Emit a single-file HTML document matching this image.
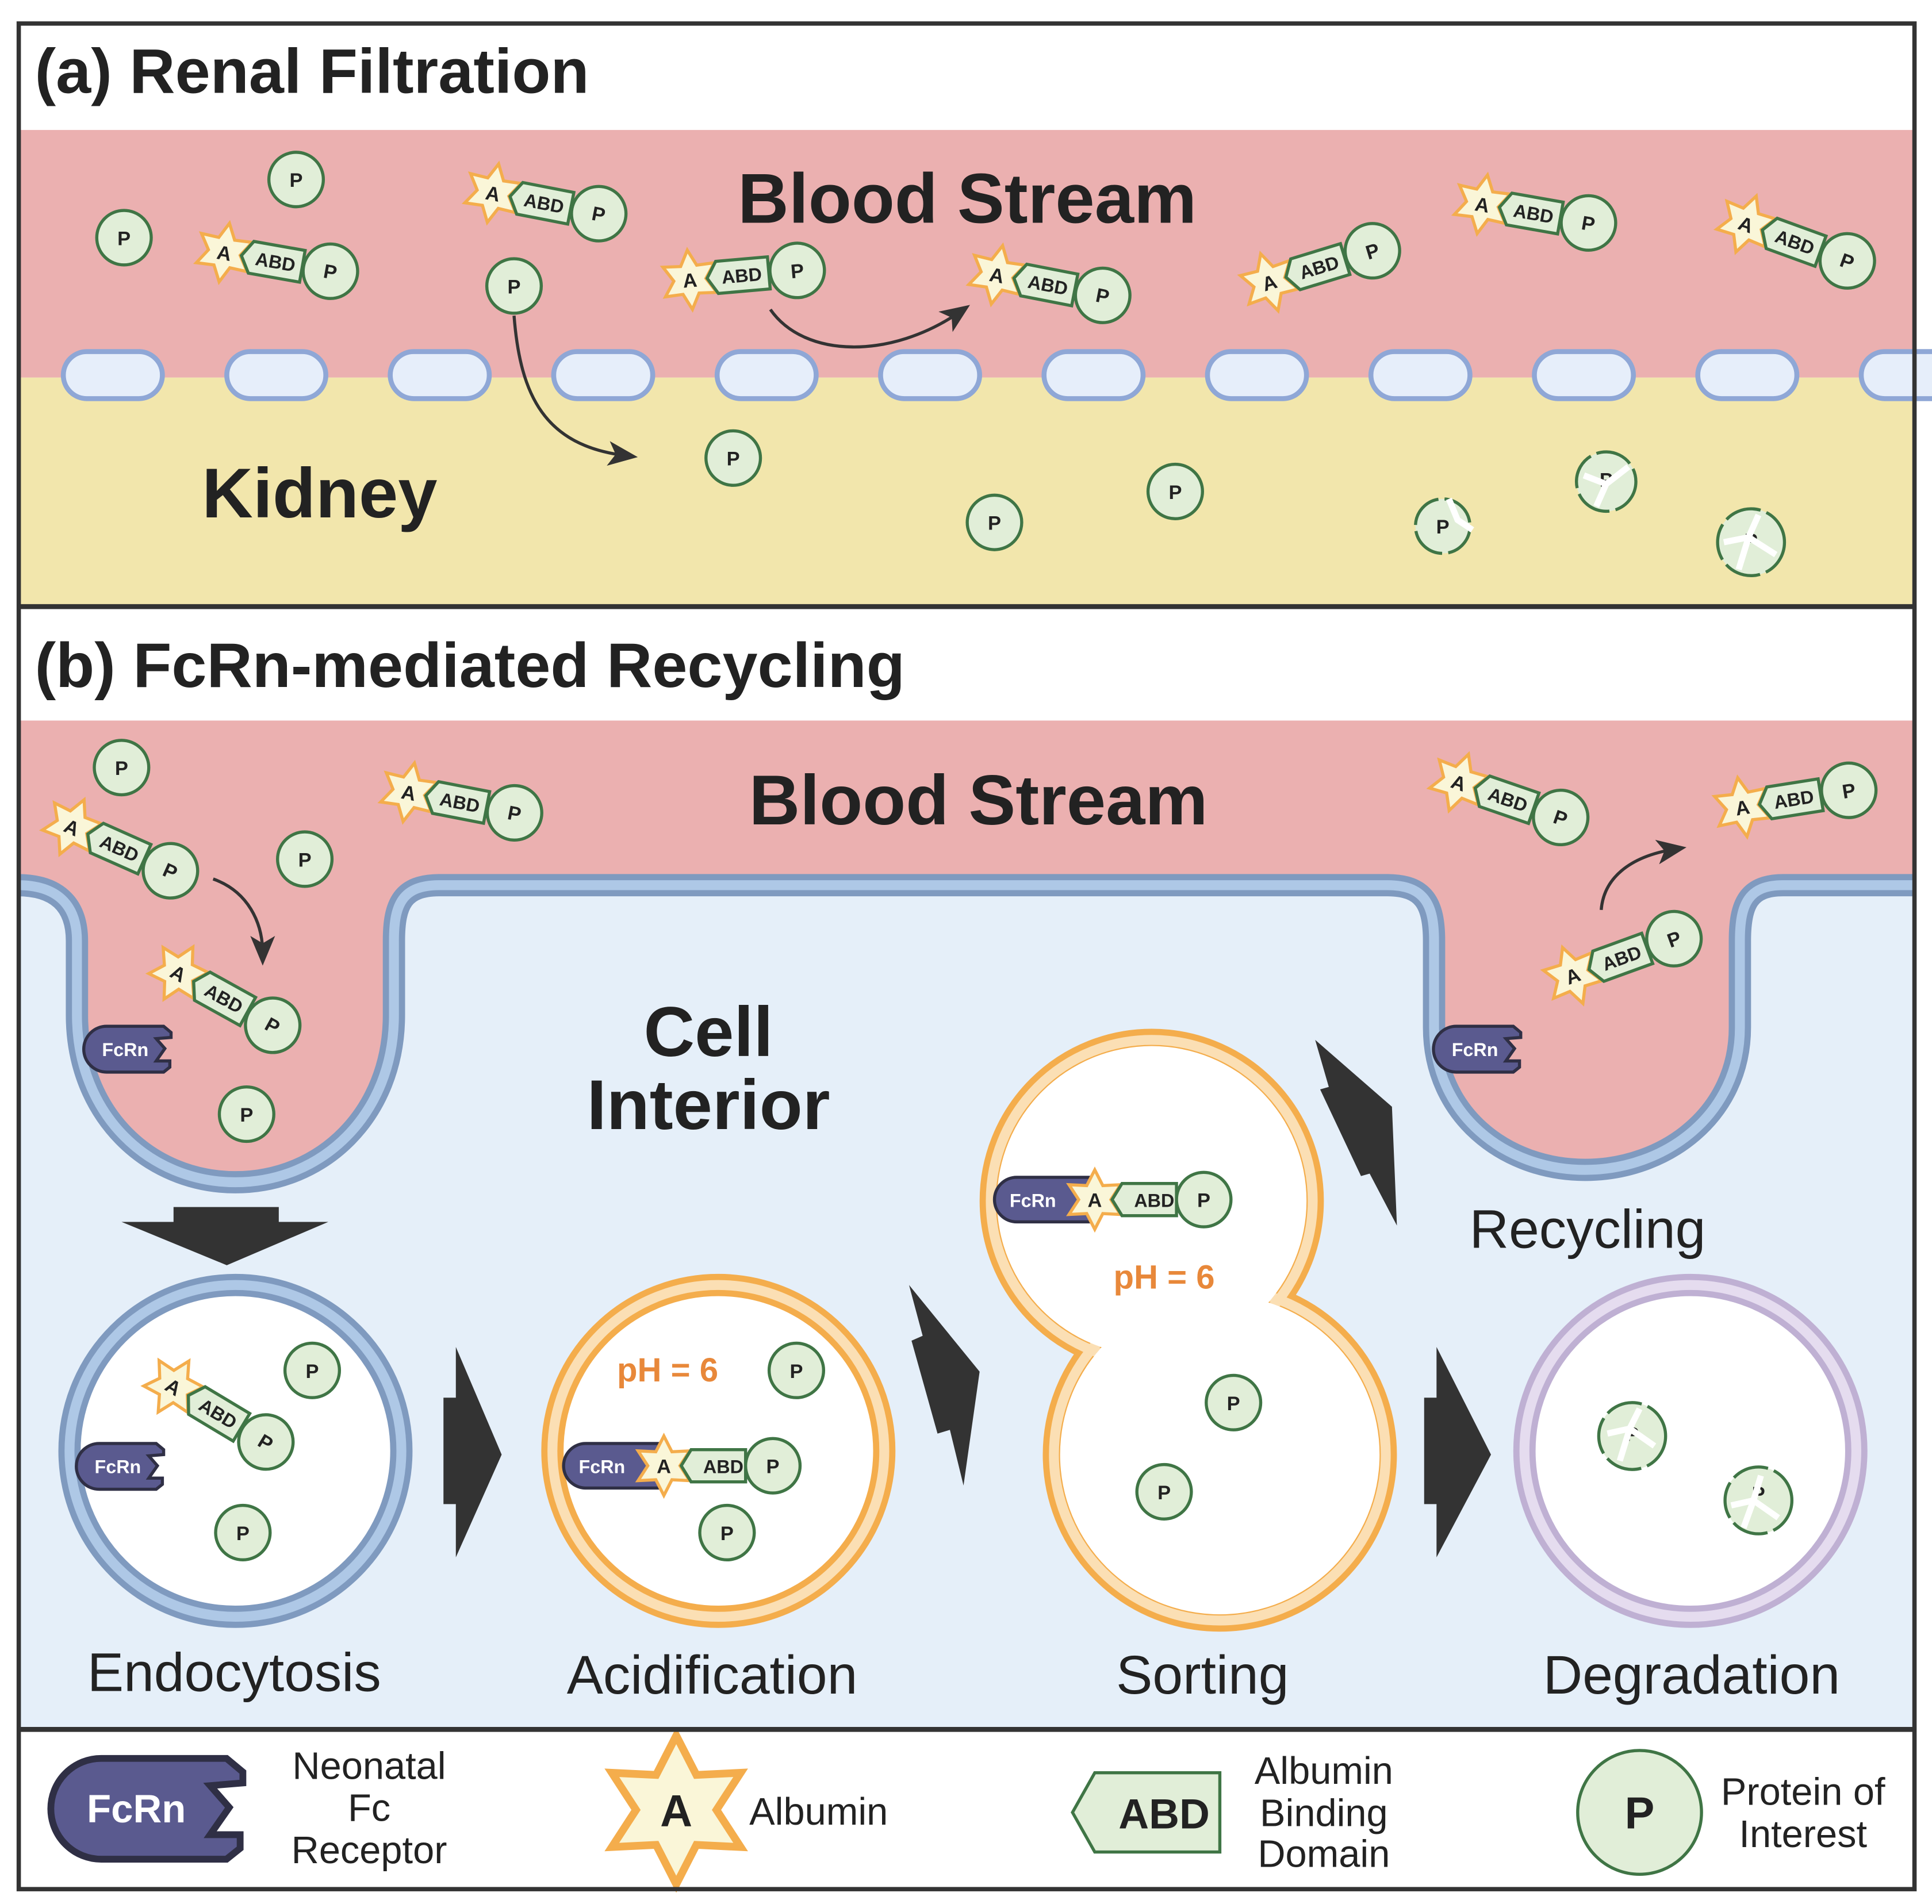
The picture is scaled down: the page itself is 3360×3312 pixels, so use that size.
<!DOCTYPE html>
<html><head><meta charset="utf-8"><style>
html,body{margin:0;padding:0;background:#fff}
svg{display:block}
.t{font-family:"Liberation Sans",sans-serif;font-weight:bold;fill:#222;text-anchor:middle;font-size:16px}
.s{font-size:15px}
.p{fill:#e1eed8;stroke:#3f7545;stroke-width:2.5}
.abd{fill:#e1eed8;stroke:#3f7545;stroke-width:2.5}
.st{fill:#faf6d8;stroke:#f4ad4c;stroke-width:2.5}
.fc{fill:#5a5a8f;stroke:#2f2f45;stroke-width:2.5}
.ft{font-family:"Liberation Sans",sans-serif;font-weight:bold;fill:#fff;font-size:15px;text-anchor:middle}
.big{font-family:"Liberation Sans",sans-serif;font-weight:bold;fill:#222}
.lab{font-family:"Liberation Sans",sans-serif;fill:#222}
.ph{font-family:"Liberation Sans",sans-serif;font-weight:bold;fill:#e8883a;font-size:27px;text-anchor:middle}
.ar{fill:none;stroke:#333;stroke-width:2.5}
.dg{fill:#e1eed8;stroke:#3f7545;stroke-width:2.5;stroke-dasharray:30 5}
.cr{fill:none;stroke:#fff;stroke-width:5}
</style></head><body>
<svg width="3360" height="3312" viewBox="0 0 1560 1538" xmlns="http://www.w3.org/2000/svg">
<defs>
<marker id="m" markerWidth="10" markerHeight="10" refX="6" refY="5" orient="auto" markerUnits="userSpaceOnUse" viewBox="0 0 10 10"><path d="M0,0 L10,5 L0,10 Z" fill="#333"/></marker>
<marker id="m2" markerWidth="24" markerHeight="24" refX="14" refY="12" orient="auto" markerUnits="userSpaceOnUse" viewBox="0 0 24 24"><path d="M0,2 L24,12 L0,22 L6,12 Z" fill="#333"/></marker>
</defs>
<rect width="1560" height="1538" fill="#fff"/>
<!-- section a -->
<rect x="14" y="105" width="1533" height="200" fill="#ebb0b0"/>
<rect x="14" y="305" width="1533" height="185" fill="#f2e6ac"/>
<g fill="#e6eefa" stroke="#8fa7d6" stroke-width="4">
<rect x="51" y="284" width="80" height="38" rx="19"/>
<rect x="183" y="284" width="80" height="38" rx="19"/>
<rect x="315" y="284" width="80" height="38" rx="19"/>
<rect x="447" y="284" width="80" height="38" rx="19"/>
<rect x="579" y="284" width="80" height="38" rx="19"/>
<rect x="711" y="284" width="80" height="38" rx="19"/>
<rect x="843" y="284" width="80" height="38" rx="19"/>
<rect x="975" y="284" width="80" height="38" rx="19"/>
<rect x="1107" y="284" width="80" height="38" rx="19"/>
<rect x="1239" y="284" width="80" height="38" rx="19"/>
<rect x="1371" y="284" width="80" height="38" rx="19"/>
<rect x="1503" y="284" width="80" height="38" rx="19"/>
</g>
<text x="28" y="75" class="big" style="font-size:51px">(a) Renal Filtration</text>
<text x="781" y="180" class="big" style="font-size:57px" text-anchor="middle">Blood Stream</text>
<text x="258" y="418" class="big" style="font-size:57px" text-anchor="middle">Kidney</text>

<path class="ar" d="M415,255 C420,320 440,360 505,368" marker-end="url(#m2)"/>
<path class="ar" d="M622,250 C650,290 720,290 775,252" marker-end="url(#m2)"/>

<!-- free P a -->
<g transform="translate(239,145)"><circle class="p" r="22"/><text y="6" class="t">P</text></g>
<g transform="translate(100,192)"><circle class="p" r="22"/><text y="6" class="t">P</text></g>
<g transform="translate(415,231)"><circle class="p" r="22"/><text y="6" class="t">P</text></g>
<g transform="translate(592,370)"><circle class="p" r="22"/><text y="6" class="t">P</text></g>
<g transform="translate(803,422)"><circle class="p" r="22"/><text y="6" class="t">P</text></g>
<g transform="translate(949,397)"><circle class="p" r="22"/><text y="6" class="t">P</text></g>
<g transform="translate(1165,425)"><circle class="dg" r="22"/><text y="6" class="t">P</text><path class="cr" d="M5,-22 L12,-5 L24,3"/></g>
<g transform="translate(1297,389)"><circle class="dg" r="24"/><text y="4" class="t">P</text><path class="cr" d="M-18,-5 L0,2 L-8,20 M0,2 L18,-12"/></g>
<g transform="translate(1414,438)"><circle class="dg" r="27"/><text y="4" class="t">P</text><path class="cr" d="M-22,0 L-2,-4 L6,-22 M-2,-4 L-10,22 M-2,-4 L20,10"/></g>

<!-- complexes a -->
<g transform="translate(181,204) rotate(10)"><polygon class="st" points="0,-24 6.5,-11.3 20.8,-12 13,0 20.8,12 6.5,11.3 0,24 -6.5,11.3 -20.8,12 -13,0 -20.8,-12 -6.5,-11.3"/><polygon class="abd" points="14,0 22,-13 64,-13 64,13 22,13"/><circle class="p" cx="87" r="22"/><text y="6" class="t">A</text><text x="42" y="5.5" class="t s">ABD</text><text x="87" y="6" class="t">P</text></g>
<g transform="translate(398,156) rotate(11)"><polygon class="st" points="0,-24 6.5,-11.3 20.8,-12 13,0 20.8,12 6.5,11.3 0,24 -6.5,11.3 -20.8,12 -13,0 -20.8,-12 -6.5,-11.3"/><polygon class="abd" points="14,0 22,-13 64,-13 64,13 22,13"/><circle class="p" cx="87" r="22"/><text y="6" class="t">A</text><text x="42" y="5.5" class="t s">ABD</text><text x="87" y="6" class="t">P</text></g>
<g transform="translate(557,226) rotate(-5)"><polygon class="st" points="0,-24 6.5,-11.3 20.8,-12 13,0 20.8,12 6.5,11.3 0,24 -6.5,11.3 -20.8,12 -13,0 -20.8,-12 -6.5,-11.3"/><polygon class="abd" points="14,0 22,-13 64,-13 64,13 22,13"/><circle class="p" cx="87" r="22"/><text y="6" class="t">A</text><text x="42" y="5.5" class="t s">ABD</text><text x="87" y="6" class="t">P</text></g>
<g transform="translate(805,222) rotate(11)"><polygon class="st" points="0,-24 6.5,-11.3 20.8,-12 13,0 20.8,12 6.5,11.3 0,24 -6.5,11.3 -20.8,12 -13,0 -20.8,-12 -6.5,-11.3"/><polygon class="abd" points="14,0 22,-13 64,-13 64,13 22,13"/><circle class="p" cx="87" r="22"/><text y="6" class="t">A</text><text x="42" y="5.5" class="t s">ABD</text><text x="87" y="6" class="t">P</text></g>
<g transform="translate(1025,228) rotate(-17)"><polygon class="st" points="0,-24 6.5,-11.3 20.8,-12 13,0 20.8,12 6.5,11.3 0,24 -6.5,11.3 -20.8,12 -13,0 -20.8,-12 -6.5,-11.3"/><polygon class="abd" points="14,0 22,-13 64,-13 64,13 22,13"/><circle class="p" cx="87" r="22"/><text y="6" class="t">A</text><text x="42" y="5.5" class="t s">ABD</text><text x="87" y="6" class="t">P</text></g>
<g transform="translate(1197,165) rotate(10)"><polygon class="st" points="0,-24 6.5,-11.3 20.8,-12 13,0 20.8,12 6.5,11.3 0,24 -6.5,11.3 -20.8,12 -13,0 -20.8,-12 -6.5,-11.3"/><polygon class="abd" points="14,0 22,-13 64,-13 64,13 22,13"/><circle class="p" cx="87" r="22"/><text y="6" class="t">A</text><text x="42" y="5.5" class="t s">ABD</text><text x="87" y="6" class="t">P</text></g>
<g transform="translate(1410,181) rotate(20)"><polygon class="st" points="0,-24 6.5,-11.3 20.8,-12 13,0 20.8,12 6.5,11.3 0,24 -6.5,11.3 -20.8,12 -13,0 -20.8,-12 -6.5,-11.3"/><polygon class="abd" points="14,0 22,-13 64,-13 64,13 22,13"/><circle class="p" cx="87" r="22"/><text y="6" class="t">A</text><text x="42" y="5.5" class="t s">ABD</text><text x="87" y="6" class="t">P</text></g>

<!-- section b -->
<rect x="14" y="582" width="1533" height="815" fill="#e5eff9"/>
<path fill="#ebb0b0" d="M14,582 L14,715 C45,715 62,730 62,760 L62,820 C62,900 120,955 190,955 C260,955 318,900 318,820 L318,760 C318,730 325,715 355,715 L1120,715 C1150,715 1158,730 1158,760 L1158,830 C1158,900 1215,945 1280,945 C1345,945 1405,900 1405,830 L1405,760 C1405,730 1412,715 1440,715 L1547,715 L1547,582 Z"/>
<path fill="none" stroke="#7f9abf" stroke-width="18" d="M14,715 C45,715 62,730 62,760 L62,820 C62,900 120,955 190,955 C260,955 318,900 318,820 L318,760 C318,730 325,715 355,715 L1120,715 C1150,715 1158,730 1158,760 L1158,830 C1158,900 1215,945 1280,945 C1345,945 1405,900 1405,830 L1405,760 C1405,730 1412,715 1440,715 L1547,715"/>
<path fill="none" stroke="#aec8e6" stroke-width="8" d="M14,715 C45,715 62,730 62,760 L62,820 C62,900 120,955 190,955 C260,955 318,900 318,820 L318,760 C318,730 325,715 355,715 L1120,715 C1150,715 1158,730 1158,760 L1158,830 C1158,900 1215,945 1280,945 C1345,945 1405,900 1405,830 L1405,760 C1405,730 1412,715 1440,715 L1547,715"/>
<rect x="14" y="492" width="1533" height="90" fill="#fff"/>
<text x="28" y="555" class="big" style="font-size:51px">(b) FcRn-mediated Recycling</text>
<text x="790" y="666" class="big" style="font-size:57px" text-anchor="middle">Blood Stream</text>
<text x="572" y="853" class="big" style="font-size:57px" text-anchor="middle">Cell</text>
<text x="572" y="912" class="big" style="font-size:57px" text-anchor="middle">Interior</text>
<text x="1282" y="1008" class="lab" style="font-size:44px" text-anchor="middle">Recycling</text>

<path class="ar" d="M172,710 C200,720 212,745 212,770" marker-end="url(#m2)"/>
<path class="ar" d="M1293,735 C1295,710 1315,692 1352,686" marker-end="url(#m2)"/>

<!-- FcRn on pits -->
<g transform="translate(68,847)"><path class="fc" d="M18,-18 H64 L70,-13 L70,-9 L58,-8 L65,0 L58,10 L69,10 L69,15 L64,19 H18 A18,18 0 0 1 18,-18 Z"/><text x="33" y="6" class="ft">FcRn</text></g>
<g transform="translate(1158,847)"><path class="fc" d="M18,-18 H64 L70,-13 L70,-9 L58,-8 L65,0 L58,10 L69,10 L69,15 L64,19 H18 A18,18 0 0 1 18,-18 Z"/><text x="33" y="6" class="ft">FcRn</text></g>

<!-- free P b -->
<g transform="translate(98,620)"><circle class="p" r="22"/><text y="6" class="t">P</text></g>
<g transform="translate(246,694)"><circle class="p" r="22"/><text y="6" class="t">P</text></g>
<g transform="translate(199,900)"><circle class="p" r="22"/><text y="6" class="t">P</text></g>

<!-- complexes b -->
<g transform="translate(330,640) rotate(11)"><polygon class="st" points="0,-24 6.5,-11.3 20.8,-12 13,0 20.8,12 6.5,11.3 0,24 -6.5,11.3 -20.8,12 -13,0 -20.8,-12 -6.5,-11.3"/><polygon class="abd" points="14,0 22,-13 64,-13 64,13 22,13"/><circle class="p" cx="87" r="22"/><text y="6" class="t">A</text><text x="42" y="5.5" class="t s">ABD</text><text x="87" y="6" class="t">P</text></g>
<g transform="translate(58,668) rotate(24)"><polygon class="st" points="0,-24 6.5,-11.3 20.8,-12 13,0 20.8,12 6.5,11.3 0,24 -6.5,11.3 -20.8,12 -13,0 -20.8,-12 -6.5,-11.3"/><polygon class="abd" points="14,0 22,-13 64,-13 64,13 22,13"/><circle class="p" cx="87" r="22"/><text y="6" class="t">A</text><text x="42" y="5.5" class="t s">ABD</text><text x="87" y="6" class="t">P</text></g>
<g transform="translate(144,786) rotate(29)"><polygon class="st" points="0,-24 6.5,-11.3 20.8,-12 13,0 20.8,12 6.5,11.3 0,24 -6.5,11.3 -20.8,12 -13,0 -20.8,-12 -6.5,-11.3"/><polygon class="abd" points="14,0 22,-13 64,-13 64,13 22,13"/><circle class="p" cx="87" r="22"/><text y="6" class="t">A</text><text x="42" y="5.5" class="t s">ABD</text><text x="87" y="6" class="t">P</text></g>
<g transform="translate(1178,632) rotate(19)"><polygon class="st" points="0,-24 6.5,-11.3 20.8,-12 13,0 20.8,12 6.5,11.3 0,24 -6.5,11.3 -20.8,12 -13,0 -20.8,-12 -6.5,-11.3"/><polygon class="abd" points="14,0 22,-13 64,-13 64,13 22,13"/><circle class="p" cx="87" r="22"/><text y="6" class="t">A</text><text x="42" y="5.5" class="t s">ABD</text><text x="87" y="6" class="t">P</text></g>
<g transform="translate(1407,652) rotate(-9)"><polygon class="st" points="0,-24 6.5,-11.3 20.8,-12 13,0 20.8,12 6.5,11.3 0,24 -6.5,11.3 -20.8,12 -13,0 -20.8,-12 -6.5,-11.3"/><polygon class="abd" points="14,0 22,-13 64,-13 64,13 22,13"/><circle class="p" cx="87" r="22"/><text y="6" class="t">A</text><text x="42" y="5.5" class="t s">ABD</text><text x="87" y="6" class="t">P</text></g>
<g transform="translate(1270,788) rotate(-20)"><polygon class="st" points="0,-24 6.5,-11.3 20.8,-12 13,0 20.8,12 6.5,11.3 0,24 -6.5,11.3 -20.8,12 -13,0 -20.8,-12 -6.5,-11.3"/><polygon class="abd" points="14,0 22,-13 64,-13 64,13 22,13"/><circle class="p" cx="87" r="22"/><text y="6" class="t">A</text><text x="42" y="5.5" class="t s">ABD</text><text x="87" y="6" class="t">P</text></g>

<!-- big arrows -->
<g fill="#333">
<polygon points="140,975 225,975 225,987 265,987 183,1022 98,987 140,987"/>
<polygon points="358,1129 368,1129 368,1088 405,1175 368,1258 368,1215 358,1215"/>
<polygon points="1150,1129 1160,1129 1160,1088 1204,1175 1160,1258 1160,1215 1150,1215"/>
<polygon points="734,1038 791,1108 778,1200 767,1155 757,1158 736,1083 745,1079"/>
<polygon points="1062,840 1124,894 1128,990 1106,948 1099,950 1066,880 1073,878"/>
</g>

<!-- endocytosis -->
<circle cx="190" cy="1172" r="134" fill="#fff" stroke="#7f9abf" stroke-width="18"/>
<circle cx="190" cy="1172" r="134" fill="none" stroke="#aec8e6" stroke-width="8"/>
<g transform="translate(252,1107)"><circle class="p" r="22"/><text y="6" class="t">P</text></g>
<g transform="translate(196,1238)"><circle class="p" r="22"/><text y="6" class="t">P</text></g>
<g transform="translate(140,1120) rotate(31)"><polygon class="st" points="0,-24 6.5,-11.3 20.8,-12 13,0 20.8,12 6.5,11.3 0,24 -6.5,11.3 -20.8,12 -13,0 -20.8,-12 -6.5,-11.3"/><polygon class="abd" points="14,0 22,-13 64,-13 64,13 22,13"/><circle class="p" cx="87" r="22"/><text y="6" class="t">A</text><text x="42" y="5.5" class="t s">ABD</text><text x="87" y="6" class="t">P</text></g>
<g transform="translate(62,1184)"><path class="fc" d="M18,-18 H64 L70,-13 L70,-9 L58,-8 L65,0 L58,10 L69,10 L69,15 L64,19 H18 A18,18 0 0 1 18,-18 Z"/><text x="33" y="6" class="ft">FcRn</text></g>

<!-- acidification -->
<circle cx="580" cy="1172" r="134" fill="#fff" stroke="#f4ad4c" stroke-width="18"/>
<circle cx="580" cy="1172" r="134" fill="none" stroke="#fbdfb4" stroke-width="8"/>
<text x="539" y="1116" class="ph">pH = 6</text>
<g transform="translate(643,1107)"><circle class="p" r="22"/><text y="6" class="t">P</text></g>
<g transform="translate(587,1238)"><circle class="p" r="22"/><text y="6" class="t">P</text></g>
<g transform="translate(455,1184)"><path class="fc" d="M18,-18 H78 L84,-10 L84,10 L78,18 H18 A18,18 0 0 1 18,-18 Z"/><text x="31" y="6" class="ft">FcRn</text></g>
<g transform="translate(536,1184)"><polygon class="st" points="0,-24 6.5,-11.3 20.8,-12 13,0 20.8,12 6.5,11.3 0,24 -6.5,11.3 -20.8,12 -13,0 -20.8,-12 -6.5,-11.3"/><polygon class="abd" points="14,0 22,-13 66,-13 66,13 22,13"/><circle class="p" cx="88" r="22"/><text y="6" class="t">A</text><text x="48" y="6" class="t s">ABD</text><text x="88" y="6" class="t">P</text></g>

<!-- sorting -->
<circle cx="930" cy="970" r="130" fill="none" stroke="#f4ad4c" stroke-width="18"/>
<circle cx="985" cy="1175" r="134" fill="none" stroke="#f4ad4c" stroke-width="18"/>
<circle cx="930" cy="970" r="130" fill="none" stroke="#fbdfb4" stroke-width="8"/>
<circle cx="985" cy="1175" r="134" fill="none" stroke="#fbdfb4" stroke-width="8"/>
<circle cx="930" cy="970" r="125" fill="#fff"/>
<circle cx="985" cy="1175" r="129" fill="#fff"/>
<text x="940" y="1041" class="ph">pH = 6</text>
<g transform="translate(996,1133)"><circle class="p" r="22"/><text y="6" class="t">P</text></g>
<g transform="translate(940,1205)"><circle class="p" r="22"/><text y="6" class="t">P</text></g>
<g transform="translate(803,969)"><path class="fc" d="M18,-18 H78 L84,-10 L84,10 L78,18 H18 A18,18 0 0 1 18,-18 Z"/><text x="31" y="6" class="ft">FcRn</text></g>
<g transform="translate(884,969)"><polygon class="st" points="0,-24 6.5,-11.3 20.8,-12 13,0 20.8,12 6.5,11.3 0,24 -6.5,11.3 -20.8,12 -13,0 -20.8,-12 -6.5,-11.3"/><polygon class="abd" points="14,0 22,-13 66,-13 66,13 22,13"/><circle class="p" cx="88" r="22"/><text y="6" class="t">A</text><text x="48" y="6" class="t s">ABD</text><text x="88" y="6" class="t">P</text></g>

<!-- degradation -->
<circle cx="1365" cy="1172" r="134" fill="#fff" stroke="#bfb0d3" stroke-width="18"/>
<circle cx="1365" cy="1172" r="134" fill="none" stroke="#e5dcef" stroke-width="8"/>
<g transform="translate(1318,1160)"><circle class="dg" r="27"/><text y="4" class="t">P</text><path class="cr" d="M-20,-2 L-2,-6 L6,-22 M-2,-6 L-10,20 M-2,-6 L18,8"/></g>
<g transform="translate(1420,1212)"><circle class="dg" r="27"/><text y="0" class="t">P</text><path class="cr" d="M-22,4 L-4,0 L2,-20 M-4,0 L-12,22 M-4,0 L16,14"/></g>

<text x="189" y="1366" class="lab" style="font-size:44px" text-anchor="middle">Endocytosis</text>
<text x="575" y="1368" class="lab" style="font-size:44px" text-anchor="middle">Acidification</text>
<text x="971" y="1368" class="lab" style="font-size:44px" text-anchor="middle">Sorting</text>
<text x="1366" y="1368" class="lab" style="font-size:44px" text-anchor="middle">Degradation</text>

<!-- legend -->
<g transform="translate(42,1460) scale(2.2)"><path class="fc" d="M18,-18 H64 L70,-13 L70,-9 L58,-8 L65,0 L58,10 L69,10 L69,15 L64,19 H18 A18,18 0 0 1 18,-18 Z" stroke-width="1.5"/></g>
<text x="110" y="1472" class="ft" style="font-size:32px">FcRn</text>
<text x="298" y="1437" class="lab" style="font-size:31px" text-anchor="middle">Neonatal</text>
<text x="298" y="1471" class="lab" style="font-size:31px" text-anchor="middle">Fc</text>
<text x="298" y="1505" class="lab" style="font-size:31px" text-anchor="middle">Receptor</text>
<g transform="translate(546,1462) scale(2.5)"><polygon class="st" stroke-width="1.2" points="0,-24 6.5,-11.3 20.8,-12 13,0 20.8,12 6.5,11.3 0,24 -6.5,11.3 -20.8,12 -13,0 -20.8,-12 -6.5,-11.3"/></g>
<text x="546" y="1475" class="t" style="font-size:36px">A</text>
<text x="605" y="1474" class="lab" style="font-size:31px" text-anchor="start">Albumin</text>
<polygon class="abd" stroke-width="3" points="866,1464 884,1432 985,1432 985,1496 884,1496"/>
<text x="940" y="1477" class="t" style="font-size:34px">ABD</text>
<text x="1069" y="1441" class="lab" style="font-size:31px" text-anchor="middle">Albumin</text>
<text x="1069" y="1475" class="lab" style="font-size:31px" text-anchor="middle">Binding</text>
<text x="1069" y="1508" class="lab" style="font-size:31px" text-anchor="middle">Domain</text>
<circle class="p" cx="1324" cy="1464" r="50" stroke-width="3"/>
<text x="1324" y="1477" class="t" style="font-size:36px">P</text>
<text x="1456" y="1458" class="lab" style="font-size:31px" text-anchor="middle">Protein of</text>
<text x="1456" y="1492" class="lab" style="font-size:31px" text-anchor="middle">Interest</text>

<!-- frame -->
<rect x="15" y="19" width="1531" height="1507" fill="none" stroke="#333" stroke-width="3.5"/>
<line x1="14" y1="490" x2="1547" y2="490" stroke="#333" stroke-width="4"/>
<line x1="14" y1="1397" x2="1547" y2="1397" stroke="#333" stroke-width="4"/>
</svg>
</body></html>
